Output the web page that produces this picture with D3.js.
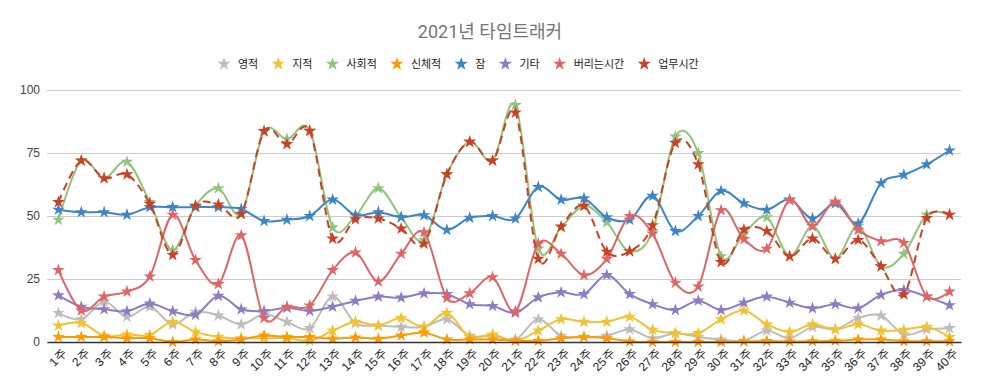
<!DOCTYPE html>
<html>
<head>
<meta charset="utf-8">
<script src="https://cdn.jsdelivr.net/npm/d3@7"></script>
<style>
	body { margin: 0; background: #fff; }
	svg { font-family: Roboto, "Liberation Sans", "Noto Sans CJK KR", sans-serif; }
</style>
</head>
<body>
<div id="chart"></div>
<script>
const title = '2021년 타임트래커';

const weeks = ['1주', '2주', '3주', '4주', '5주', '6주', '7주', '8주', '9주', '10주',
	'11주', '12주', '13주', '14주', '15주', '16주', '17주', '18주', '19주', '20주',
	'21주', '22주', '23주', '24주', '25주', '26주', '27주', '28주', '29주', '30주',
	'31주', '32주', '33주', '34주', '35주', '36주', '37주', '38주', '39주', '40주'];

const yTicks = [0, 25, 50, 75, 100];

// 영적
const spiritual = [11.5, 9, 16, 10, 14, 7, 12, 10.5, 7, 11,
	8, 5.5, 18, 7.5, 6.5, 6, 6, 9, 2.5, 2.5,
	1, 9, 2.5, 2, 2.5, 5, 1.5, 3.5, 2, 1,
	0.5, 4.5, 1.5, 6, 5, 9.5, 10.5, 3, 5, 5.5];
// 지적
const intellectual = [6.5, 7.5, 2.5, 3, 2.8, 8, 4, 2, 1.5, 1.5,
	1.5, 0.5, 4.5, 8, 6.5, 9.5, 6, 11.5, 2, 3,
	0.5, 4.5, 9, 8, 8, 10, 4.8, 3.5, 3.5, 9,
	12.5, 7, 4, 7, 5, 7, 4.5, 4.8, 6, 2];
// 사회적
const social = [48.5, 72, 65, 71.5, 55.5, 36.5, 54, 61, 51, 83.5,
	80.5, 84, 45.5, 50, 61, 49.5, 40.5, 66.5, 79.5, 72,
	94, 37, 45.5, 54, 47.5, 36, 44, 81.5, 75, 34,
	43, 49.5, 34, 46, 33, 46, 30, 35, 50.5, 50.5];
// 신체적
const physical = [2, 2, 2, 1.5, 1.5, 0, 1, 0.3, 1, 2.6,
	2, 2, 1.3, 1.8, 1.3, 2.6, 3.7, 1, 1, 1,
	0.5, 0.5, 1.5, 2, 1.5, 0.2, 0, 0, 0, 0,
	0.2, 0.4, 0.2, 0.3, 0.5, 1, 1, 0.3, 0.3, 0.3];
// 잠
const sleep = [52.5, 51.5, 51.5, 50.5, 53.5, 53.5, 53.5, 53.5, 52.8, 48,
	48.5, 50, 56.5, 50.3, 51.5, 49.5, 50.3, 44.5, 49.3, 50,
	49, 61.5, 56.5, 57, 49.5, 48.5, 58, 44, 50, 60,
	55, 52.5, 56.5, 49, 55, 47, 63, 66.3, 70.5, 76];
// 기타
const other = [18.5, 14, 13, 12.2, 15.3, 12.2, 10.8, 18.3, 13, 12.3,
	13.6, 12.3, 14, 16.3, 18, 17.6, 19.3, 19, 15, 14.3,
	11.6, 17.7, 19.7, 19, 26.6, 19, 15, 12.7, 16.4, 12.7,
	15.6, 18, 15.6, 13.4, 15, 13.4, 18.7, 20.6, 18, 14.6];
// 버리는시간
const wasted = [28.5, 12.5, 18, 20, 26, 50.5, 32.5, 23, 42.3, 9.5,
	14, 14.5, 28.5, 35.5, 24, 35, 43.5, 17.5, 19.3, 25.7,
	12.2, 39, 35, 26.5, 33, 50, 43, 23.5, 22, 52.3,
	40.8, 37, 56.3, 46, 55.7, 44.5, 40, 39.3, 18, 20];
// 업무시간
const work = [55.5, 72, 65, 66.5, 54.8, 34.5, 54, 54.5, 50.8, 83.7,
	78.5, 83.7, 41, 48.7, 49, 45, 39, 66.5, 79.4, 72,
	91, 33, 45.8, 54, 35.8, 36, 46.3, 79, 70.5, 31.7,
	44.6, 44, 34, 41, 33, 40.5, 30, 18.9, 49.2, 50.5];

const seriesNames = ['영적', '지적', '사회적', '신체적', '잠', '기타', '버리는시간', '업무시간'];
const seriesValues = [spiritual, intellectual, social, physical, sleep, other, wasted, work];
const seriesColors = ['#bdbdbd', '#f1c232', '#93c47d', '#ff9900', '#3d85c6', '#8e7cc3', '#e06666', '#cc4125'];

const width = 981, height = 391;
const plot = {left: 47, right: 961, top: 90, bottom: 342};

const svg = d3.select('#chart').append('svg')
	.attr('width', width)
	.attr('height', height);

const x = d3.scaleBand().domain(weeks).range([plot.left, plot.right]);
const y = d3.scaleLinear().domain([0, 100]).range([plot.bottom, plot.top]);
const cx = d => x(d) + x.bandwidth() / 2;

// title
svg.append('text')
	.attr('x', 490)
	.attr('y', 38)
	.attr('text-anchor', 'middle')
	.attr('font-size', 18)
	.attr('fill', '#757575')
	.text(title);

// legend
const star = d3.symbol().type(d3.symbolStar);
const legend = svg.append('g').attr('transform', 'translate(0,64)');
let lx = 224;
seriesNames.forEach((name, i) => {
	legend.append('path')
		.attr('d', star.size(55)())
		.attr('transform', 'translate(' + lx + ',0)')
		.attr('fill', seriesColors[i]);
	const t = legend.append('text')
		.attr('x', lx + 14)
		.attr('dy', '0.35em')
		.attr('font-size', 11)
		.attr('fill', '#222')
		.text(name);
	lx += 14 + t.node().getComputedTextLength() + 20;
});

// gridlines
svg.append('g')
	.attr('transform', 'translate(' + plot.left + ',0)')
	.call(d3.axisLeft(y).tickValues(yTicks).tickSize(-(plot.right - plot.left)).tickFormat(''))
	.call(g => g.select('.domain').remove())
	.call(g => g.selectAll('line').attr('stroke', '#cccccc'));

// y labels
svg.append('g')
	.attr('transform', 'translate(' + plot.left + ',0)')
	.call(d3.axisLeft(y).tickValues(yTicks).tickSize(0).tickPadding(7))
	.call(g => g.select('.domain').remove())
	.call(g => g.selectAll('text').attr('font-size', 12).attr('fill', '#444'));

// series
const line = d3.line()
	.x((d, i) => cx(weeks[i]))
	.y(d => y(d))
	.curve(d3.curveCardinal.tension(0));

seriesValues.forEach((vals, i) => {
	const g = svg.append('g');
	g.append('path')
		.datum(vals)
		.attr('fill', 'none')
		.attr('stroke', seriesColors[i])
		.attr('stroke-width', 2)
		.attr('stroke-dasharray', seriesNames[i] === '업무시간' ? '8,5' : null)
		.attr('d', line);
	g.selectAll('.pt')
		.data(vals)
		.enter().append('path')
		.attr('class', 'pt')
		.attr('d', star.size(50)())
		.attr('transform', (d, j) => 'translate(' + cx(weeks[j]) + ',' + y(d) + ')')
		.attr('fill', seriesColors[i]);
});

// x axis
svg.append('g')
	.attr('transform', 'translate(0,' + plot.bottom + ')')
	.call(d3.axisBottom(x).tickSize(0).tickSizeOuter(0))
	.call(g => g.select('.domain').attr('stroke', '#333').attr('stroke-width', 1.3))
	.call(g => g.selectAll('text')
		.attr('x', 0)
		.attr('y', 0)
		.attr('dy', '0.35em')
		.attr('font-size', 12)
		.attr('fill', '#222')
		.attr('text-anchor', 'end')
		.attr('transform', 'translate(6,9) rotate(-45)'));
</script>
</body>
</html>
